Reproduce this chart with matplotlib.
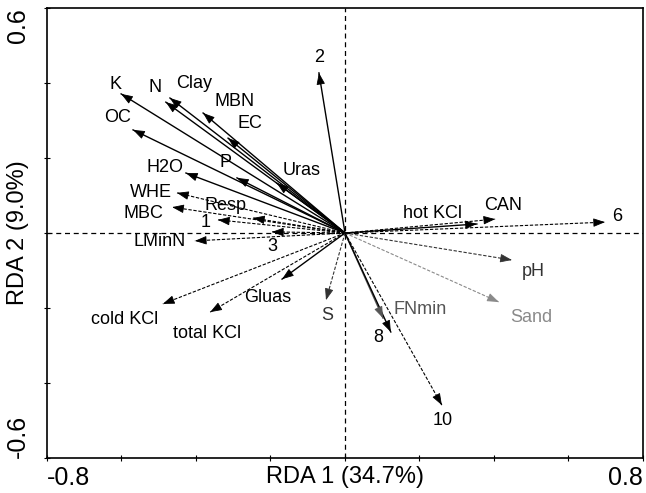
import matplotlib
matplotlib.use("Agg")
import matplotlib.pyplot as plt
import numpy as np

plt.rcParams['font.family'] = ['Liberation Sans', 'DejaVu Sans']

# arrow end points (RDA1, RDA2)
labels = ['K', 'N', 'Clay', 'MBN', 'EC', 'OC', 'H2O', 'P', 'Uras', 'WHE',
          'MBC', 'Resp', '1', 'LMinN', '3', 'cold KCl', 'total KCl', 'Gluas',
          'S', '2', 'FNmin', '8', '10', 'Sand', 'pH', 'hot KCl', 'CAN', '6']
rda1 = [-0.601, -0.481, -0.470, -0.381, -0.314, -0.569, -0.427, -0.290, -0.183, -0.451,
        -0.464, -0.247, -0.341, -0.403, -0.196, -0.489, -0.362, -0.169,
        -0.051, -0.070, 0.102, 0.123, 0.260, 0.413, 0.448, 0.354, 0.403, 0.698]
rda2 = [0.371, 0.349, 0.360, 0.320, 0.253, 0.275, 0.160, 0.147, 0.133, 0.107,
        0.069, 0.040, 0.035, -0.021, 0.003, -0.189, -0.211, -0.123,
        -0.179, 0.427, -0.227, -0.264, -0.459, -0.184, -0.072, 0.024, 0.037, 0.029]

# label offsets from arrow tip, in pixels (dx right, dy down)
offsets = {'K': (-6, -9), 'N': (-11, -15), 'Clay': (24, -14), 'MBN': (31, -11),
           'EC': (22, -15), 'OC': (-15, -12), 'H2O': (-21, -5), 'P': (-11, -15),
           'Uras': (25, -13), 'WHE': (-26, 0), 'MBC': (-29, 6), 'Resp': (-27, -13),
           '1': (-12, 3), 'LMinN': (-35, 1), '3': (0, 15), 'cold KCl': (-38, 16),
           'total KCl': (-3, 21), 'Gluas': (-14, 18), 'S': (1, 15), '2': (0, -15),
           'FNmin': (37, -9), '8': (-13, 5), '10': (1, 15), 'Sand': (32, 16),
           'pH': (21, 12), 'hot KCl': (-44, -11), 'CAN': (8, -14), '6': (12, -6)}

dashed = {'WHE', 'MBC', 'Resp', '1', 'LMinN', '3', 'cold KCl', 'total KCl',
          'S', '10', 'pH', 'CAN', '6', 'Sand'}
grey = {'Sand': '#8a8a8a', 'FNmin': '#555555', 'pH': '#333333', 'S': '#333333'}

fig = plt.figure(figsize=(6.46, 4.93), dpi=100)
ax = fig.add_axes([47 / 646, 35 / 493, 596 / 646, 450 / 493])
ax.set_xlim(-0.8, 0.8)
ax.set_ylim(-0.6, 0.6)

ax.axhline(0, color='black', lw=0.9, ls=(0, (4, 3)), zorder=1)
ax.axvline(0, color='black', lw=0.9, ls=(0, (4, 3)), zorder=1)

sx = 596 / 1.6
sy = 450 / 1.2
for lab, x, y in zip(labels, rda1, rda2):
    col = grey.get(lab, 'black')
    ls = (0, (3, 1.5)) if lab in dashed else '-'
    lw = 0.8 if lab in dashed else 1.0
    ax.plot([0, x], [0, y], color=col, lw=lw, ls=ls, zorder=2)
    ux, uy = x * sx, y * sy
    n = np.hypot(ux, uy)
    ax.annotate('', xy=(x, y), xytext=(-ux / n * 10, -uy / n * 10),
                textcoords='offset pixels',
                arrowprops=dict(arrowstyle='-|>,head_length=0.6,head_width=0.22',
                                mutation_scale=12, color=col, lw=0.6,
                                shrinkA=0, shrinkB=0), zorder=3)
    dx, dy = offsets[lab]
    ax.annotate(lab, xy=(x, y), xytext=(dx, -dy), textcoords='offset pixels',
                ha='center', va='center', fontsize=13, color=col)

ax.set_xticks(np.arange(-0.8, 0.81, 0.2))
ax.set_yticks(np.arange(-0.6, 0.61, 0.2))
ax.set_xticklabels(['-0.8'] + [''] * 7 + ['0.8'])
ax.set_yticklabels(['-0.6'] + [''] * 5 + ['0.6'], rotation=90)
xt = ax.get_xticklabels()
xt[0].set_ha('left')
xt[-1].set_ha('right')
yt = ax.get_yticklabels()
yt[0].set_va('bottom')
yt[-1].set_va('top')
ax.tick_params(axis='both', direction='inout', length=5, width=0.8, labelsize=18)
ax.tick_params(axis='x', pad=3)
ax.tick_params(axis='y', pad=10)
for sp in ax.spines.values():
    sp.set_linewidth(1.2)

ax.set_xlabel('RDA 1 (34.7%)', fontsize=17)
ax.set_ylabel('RDA 2 (9.0%)', fontsize=17)
ax.xaxis.set_label_coords(0.5, -0.017, transform=ax.transAxes)
ax.yaxis.set_label_coords(-0.048, 0.5, transform=ax.transAxes)
ax.xaxis.label.set_va('top')
ax.yaxis.label.set_va('center')

fig.savefig('out.png', dpi=100)
